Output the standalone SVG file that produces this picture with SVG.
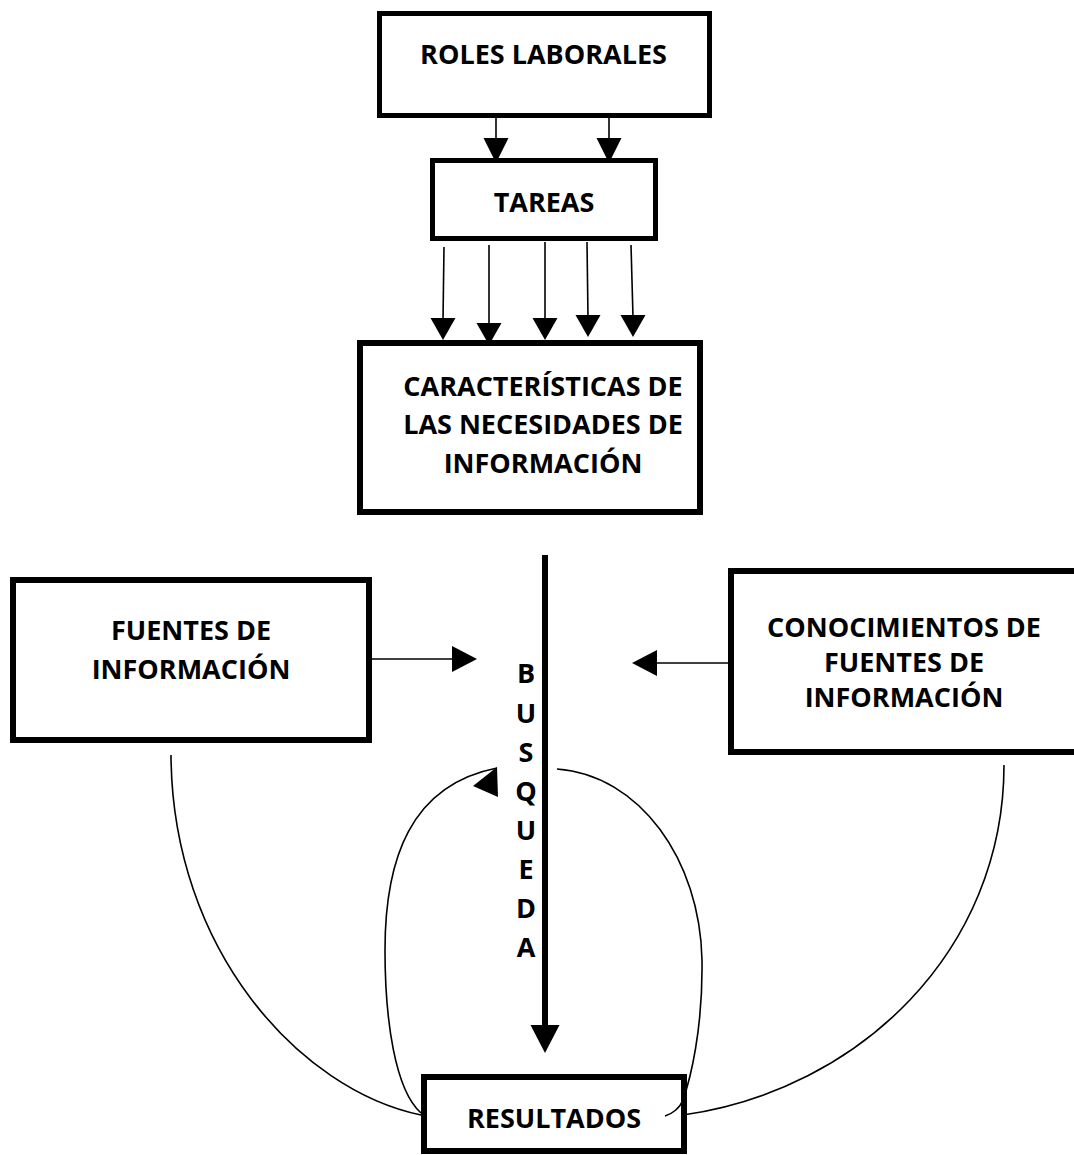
<svg xmlns="http://www.w3.org/2000/svg" width="1074" height="1155" viewBox="0 0 1074 1155">
<style>
.box{fill:#fff;stroke:#000;stroke-width:6}
.t{font-family:"Open Sans","Liberation Sans",Arial,sans-serif;font-weight:bold;font-size:27px;fill:#000;text-anchor:middle}
.ln{fill:none;stroke:#000;stroke-width:1.6}
.thick{fill:none;stroke:#000;stroke-width:6}
.head{fill:#000;stroke:none}
</style>
<rect width="1074" height="1155" fill="#fff"/>
<g id="roles">
  <rect class="box" x="379.5" y="13.5" width="330" height="102" style="stroke-width:5"/>
  <text class="t" x="543.5" y="64">ROLES LABORALES</text>
</g>
<g id="tareas">
  <rect class="box" x="432.5" y="160.5" width="223" height="78" style="stroke-width:5"/>
  <text class="t" x="544" y="212">TAREAS</text>
</g>
<g id="caracteristicas">
  <rect class="box" x="360" y="343" width="340" height="169"/>
  <text class="t" x="543" y="396">CARACTERÍSTICAS DE</text>
  <text class="t" x="543" y="434">LAS NECESIDADES DE</text>
  <text class="t" x="543" y="473">INFORMACIÓN</text>
</g>
<g id="fuentes">
  <rect class="box" x="13" y="580" width="356" height="160"/>
  <text class="t" x="191" y="640">FUENTES DE</text>
  <text class="t" x="191" y="679">INFORMACIÓN</text>
</g>
<g id="conocimientos">
  <rect class="box" x="731" y="571" width="360" height="181"/>
  <text class="t" x="904" y="637">CONOCIMIENTOS DE</text>
  <text class="t" x="904" y="672">FUENTES DE</text>
  <text class="t" x="904" y="707">INFORMACIÓN</text>
</g>
<g id="busqueda">
  <text class="t" x="526" y="683">B</text>
  <text class="t" x="526" y="723">U</text>
  <text class="t" x="526" y="762">S</text>
  <text class="t" x="526" y="801">Q</text>
  <text class="t" x="526" y="840">U</text>
  <text class="t" x="526" y="879">E</text>
  <text class="t" x="526" y="918">D</text>
  <text class="t" x="526" y="957">A</text>
</g>
<g id="resultados">
  <rect class="box" x="424" y="1077" width="260" height="74"/>
  <text class="t" x="554" y="1128">RESULTADOS</text>
</g>
<g id="connectors">
  <!-- roles -> tareas -->
  <line class="ln" x1="496" y1="118" x2="496" y2="140"/>
  <polygon class="head" points="483.5,138 508.5,138 496,163"/>
  <line class="ln" x1="609" y1="118" x2="609" y2="140"/>
  <polygon class="head" points="596.5,138 621.5,138 609,163"/>
  <!-- tareas -> caracteristicas -->
  <line class="ln" x1="444" y1="247" x2="443" y2="320"/>
  <polygon class="head" points="430.5,318 455.5,318 443,340"/>
  <line class="ln" x1="489" y1="245" x2="489" y2="325"/>
  <polygon class="head" points="476.5,323 501.5,323 489,345"/>
  <line class="ln" x1="545" y1="242" x2="545" y2="320"/>
  <polygon class="head" points="532.5,318 557.5,318 545,340"/>
  <line class="ln" x1="587" y1="242" x2="588" y2="317"/>
  <polygon class="head" points="575.5,315 600.5,315 588,337"/>
  <line class="ln" x1="631" y1="245" x2="633" y2="317"/>
  <polygon class="head" points="620.5,315 645.5,315 633,337"/>
  <!-- fuentes -> busqueda -->
  <line class="ln" x1="372" y1="659" x2="454" y2="659"/>
  <polygon class="head" points="452,646 452,672 477,659"/>
  <!-- conocimientos -> busqueda -->
  <line class="ln" x1="728" y1="663" x2="655" y2="663"/>
  <polygon class="head" points="657,650 657,676 632,663"/>
  <!-- busqueda main line -->
  <line class="thick" x1="545" y1="555" x2="545" y2="1027"/>
  <polygon class="head" points="530.5,1025 559.5,1025 545,1053"/>
  <!-- curves -->
  <path class="ln" d="M171,755 C172,950 300,1090 421,1115"/>
  <path class="ln" d="M421,1113 C395,1090 385,1020 385,950 C385,860 410,785 497,768"/>
  <polygon class="head" points="497,767 498,797 473,786"/>
  <path class="ln" d="M557,769 C640,775 700,860 702,960 C703,1030 690,1080 683,1100 C680,1108 672,1114 665,1116"/>
  <path class="ln" d="M1004,765 C1004,950 860,1090 683,1115"/>
</g>
</svg>
